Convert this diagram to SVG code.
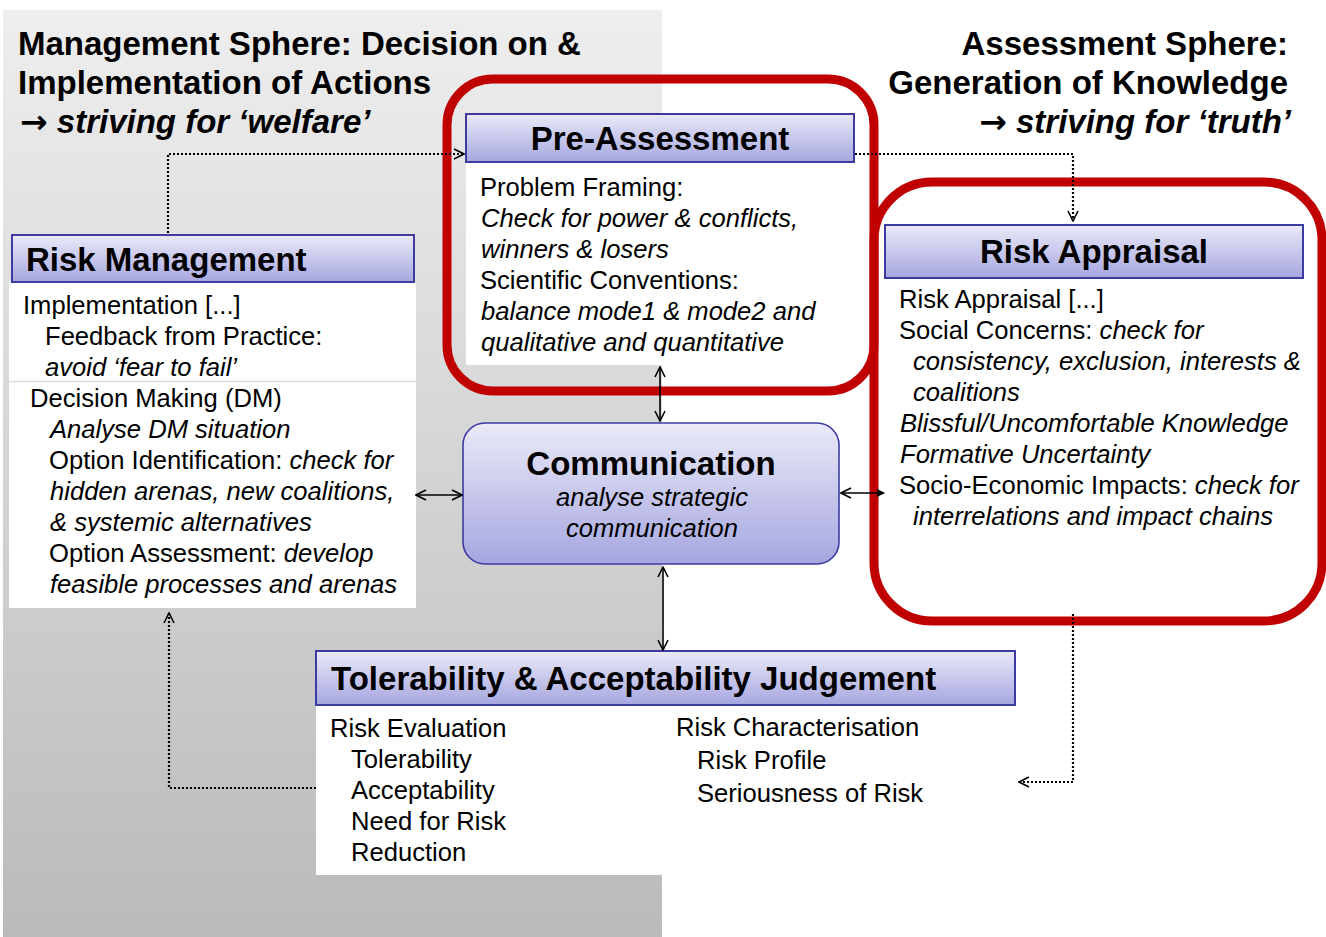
<svg xmlns="http://www.w3.org/2000/svg" width="1326" height="937" viewBox="0 0 1326 937">
<defs>
<linearGradient id="panel" x1="0" y1="0" x2="0" y2="1">
<stop offset="0" stop-color="#eeeeee"/>
<stop offset="1" stop-color="#bababa"/>
</linearGradient>
<linearGradient id="hdr" x1="0" y1="0" x2="0" y2="1">
<stop offset="0" stop-color="#eaeaf9"/>
<stop offset="1" stop-color="#a6a6e0"/>
</linearGradient>
<marker id="arr" viewBox="0 0 12 12" refX="11" refY="6" markerWidth="12" markerHeight="12" markerUnits="userSpaceOnUse" orient="auto-start-reverse">
<path d="M1,1 L11,6 L1,11" fill="none" stroke="#000" stroke-width="1.6" stroke-dasharray="none"/>
</marker>
<marker id="tri" viewBox="0 0 8 8" refX="7" refY="4" markerWidth="8" markerHeight="8" markerUnits="userSpaceOnUse" orient="auto">
<path d="M0,0 L8,4 L0,8 Z" fill="#000"/>
</marker>
<style>
text{font-family:"Liberation Sans",Arial,sans-serif;fill:#000}
.b{font-weight:bold;font-size:33px}
.t{font-size:25.6px}
.i{font-style:italic}
.ar{font-family:"DejaVu Sans",sans-serif;font-style:normal;font-weight:bold}
.hdr{fill:url(#hdr);stroke:#3c3ca0;stroke-width:2}
.red{fill:none;stroke:#c00000;stroke-width:9}
.dot{fill:none;stroke:#000;stroke-width:2.2;stroke-dasharray:2 2}
.sol{fill:none;stroke:#000;stroke-width:1.6}
</style>
</defs>
<rect x="0" y="0" width="1326" height="937" fill="#fff"/>
<rect id="management-sphere" x="3" y="10" width="659" height="927" fill="url(#panel)"/>

<g id="titles">
<text class="b" x="18" y="55">Management Sphere: Decision on &amp;</text>
<text class="b" x="18" y="94">Implementation of Actions</text>
<text class="b" x="20" y="133"><tspan class="ar">→</tspan> <tspan class="i">striving for ‘welfare’</tspan></text>
<text class="b" x="1288" y="55" text-anchor="end">Assessment Sphere:</text>
<text class="b" x="1288" y="94" text-anchor="end">Generation of Knowledge</text>
<text class="b" x="1291" y="133" text-anchor="end"><tspan class="ar">→</tspan> <tspan class="i">striving for ‘truth’</tspan></text>
</g>

<g id="pre-assessment">
<rect x="466" y="162" width="404" height="203" fill="#fff"/>
<rect class="hdr" x="466" y="114" width="388" height="48"/>
<text class="b" x="660" y="150" text-anchor="middle">Pre-Assessment</text>
<text class="t" x="480" y="196">Problem Framing:</text>
<text class="t i" x="481" y="227">Check for power &amp; conflicts,</text>
<text class="t i" x="481" y="258">winners &amp; losers</text>
<text class="t" x="480" y="289">Scientific Conventions:</text>
<text class="t i" x="481" y="320">balance mode1 &amp; mode2 and</text>
<text class="t i" x="481" y="351">qualitative and quantitative</text>
<rect class="red" x="447" y="79" width="427" height="312" rx="46"/>
</g>

<g id="risk-management">
<rect x="9" y="282" width="407" height="326" fill="#fff"/>
<line x1="9" y1="381.5" x2="416" y2="381.5" stroke="#dcdcdc" stroke-width="1.5"/>
<rect class="hdr" x="12" y="235" width="402" height="47"/>
<text class="b" x="26" y="271">Risk Management</text>
<text class="t" x="23" y="314">Implementation [...]</text>
<text class="t" x="45" y="345">Feedback from Practice:</text>
<text class="t i" x="45" y="376">avoid ‘fear to fail’</text>
<text class="t" x="30" y="407">Decision Making (DM)</text>
<text class="t i" x="50" y="438">Analyse DM situation</text>
<text class="t" x="49" y="469">Option Identification: <tspan class="i">check for</tspan></text>
<text class="t i" x="50" y="500">hidden arenas, new coalitions,</text>
<text class="t i" x="50" y="531">&amp; systemic alternatives</text>
<text class="t" x="49" y="562">Option Assessment: <tspan class="i">develop</tspan></text>
<text class="t i" x="50" y="593">feasible processes and arenas</text>
</g>

<g id="risk-appraisal">
<rect class="hdr" x="885" y="225" width="418" height="53"/>
<text class="b" x="1094" y="263" text-anchor="middle">Risk Appraisal</text>
<text class="t" x="899" y="308">Risk Appraisal [...]</text>
<text class="t" x="899" y="339">Social Concerns: <tspan class="i">check for</tspan></text>
<text class="t i" x="913" y="370">consistency, exclusion, interests &amp;</text>
<text class="t i" x="913" y="401">coalitions</text>
<text class="t i" x="900" y="432">Blissful/Uncomfortable Knowledge</text>
<text class="t i" x="900" y="463">Formative Uncertainty</text>
<text class="t" x="899" y="494">Socio-Economic Impacts: <tspan class="i">check for</tspan></text>
<text class="t i" x="913" y="525">interrelations and impact chains</text>
<rect class="red" x="874" y="182" width="448" height="439" rx="58"/>
</g>

<g id="communication">
<rect x="463" y="423" width="376" height="141" rx="22" fill="url(#hdr)" stroke="#3c3ca0" stroke-width="1.6"/>
<text class="b" x="651" y="475" text-anchor="middle">Communication</text>
<text class="t i" x="652" y="506" text-anchor="middle">analyse strategic</text>
<text class="t i" x="652" y="537" text-anchor="middle">communication</text>
</g>

<g id="tolerability-acceptability">
<rect x="316" y="705" width="346" height="170" fill="#fff"/>
<rect class="hdr" x="316" y="651" width="699" height="54"/>
<text class="b" x="331" y="690">Tolerability &amp; Acceptability Judgement</text>
<text class="t" x="330" y="737">Risk Evaluation</text>
<text class="t" x="351" y="768">Tolerability</text>
<text class="t" x="351" y="799">Acceptability</text>
<text class="t" x="351" y="830">Need for Risk</text>
<text class="t" x="351" y="861">Reduction</text>
<text class="t" x="676" y="736">Risk Characterisation</text>
<text class="t" x="697" y="769">Risk Profile</text>
<text class="t" x="697" y="802">Seriousness of Risk</text>
</g>

<g id="connectors">
<path class="dot" d="M168,233 V154 H464" marker-end="url(#arr)"/>
<path class="dot" d="M855,154 H1073 V221" marker-end="url(#arr)"/>
<path class="sol" d="M660,367 V421" marker-start="url(#arr)" marker-end="url(#arr)"/>
<path class="sol" d="M416,495 H462" marker-start="url(#arr)" marker-end="url(#arr)"/>
<path class="sol" d="M841,493 H884" marker-start="url(#arr)" marker-end="url(#tri)"/>
<path class="sol" d="M663,567 V650" marker-start="url(#arr)" marker-end="url(#arr)"/>
<path class="dot" d="M1073,614 V782 H1019" marker-end="url(#arr)"/>
<path class="dot" d="M316,788 H169 V613" marker-end="url(#arr)"/>
</g>
</svg>
